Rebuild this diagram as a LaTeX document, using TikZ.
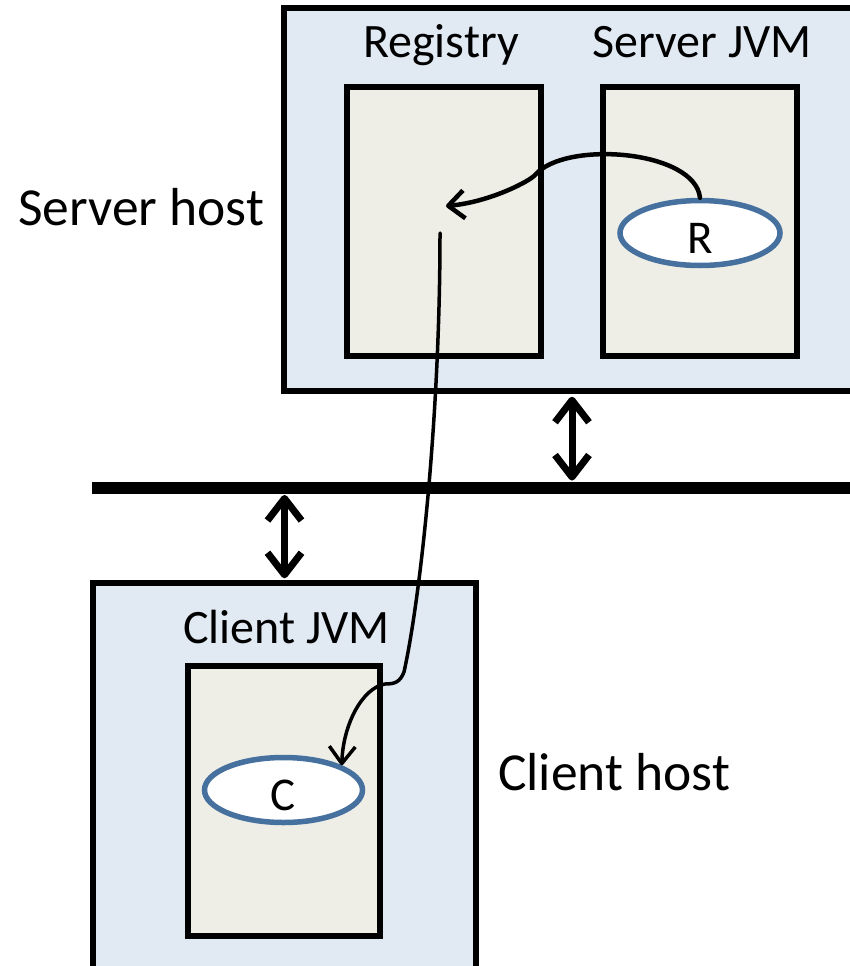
\documentclass[tikz,border=0pt]{standalone}
\usepackage{fontspec}
\setmainfont{Carlito}
\usetikzlibrary{arrows.meta,shapes.geometric}
\definecolor{hostblue}{HTML}{E1E9F3}
\definecolor{jvmfill}{HTML}{EEEEE7}
\definecolor{objblue}{HTML}{46719F}
\begin{document}
\begin{tikzpicture}[x=1pt,y=-1pt,
  box/.style={draw=black, line width=5.5pt, inner sep=0pt, rectangle},
  hostbox/.style={box, fill=hostblue},
  jvmbox/.style={box, fill=jvmfill, minimum width=194pt, minimum height=269pt},
  obj/.style={ellipse, draw=objblue, line width=5.5pt, fill=white, inner sep=0pt,
    minimum width=160pt, minimum height=65pt, font=\fontsize{47}{55}\selectfont,
    text height=40pt, text depth=0pt},
  biglabel/.style={font=\fontsize{53.5}{60}\selectfont, anchor=base west, inner sep=0pt},
  boxlabel/.style={font=\fontsize{48}{55}\selectfont, anchor=base west, inner sep=0pt},
  link/.style={line width=4.5pt, line cap=round, -{Straight Barb[length=16pt,width=28pt,line join=round]}},
  link2/.style={line width=3.5pt, line cap=round, -{Straight Barb[length=17pt,width=26pt,line join=round]}},
  dbl/.style={line width=7pt, {Straight Barb[length=22pt,width=34pt,line join=round]}-{Straight Barb[length=22pt,width=34pt,line join=round]}},
  netbar/.style={line width=12pt}
]
\clip (0,0) rectangle (850,966);
\fill[white] (0,0) rectangle (850,966);

% server host
\node[hostbox, minimum width=576pt, minimum height=383pt] (srv) at (572,199.5) {};
\node[jvmbox] (reg) at (444,221.5) {};
\node[jvmbox] (sjvm) at (700,221.5) {};
\node[boxlabel] (reglbl) at (363,57) {Registry};
\node[boxlabel] (sjvmlbl) at (592,57) {Server JVM};
\node[obj] (R) at (700,233) {R};
\node[biglabel] (srvlbl) at (18,225) {Server host};

% client host
\node[hostbox, minimum width=383pt, minimum height=397pt] (cli) at (284.5,781.5) {};
\node[jvmbox, minimum width=192pt, minimum height=270pt] (cjvm) at (284,801) {};
\node[boxlabel] (cjvmlbl) at (183,643) {Client JVM};
\node[obj, minimum width=158pt] (C) at (283.5,790) {C};
\node[biglabel] (clilbl) at (498,790) {Client host};

% network
\coordinate (barL) at (92,487.5);
\coordinate (barR) at (870,487.5);
\coordinate (n1) at (572,487.5);
\coordinate (n2) at (284.5,487.5);
\draw[netbar] (barL) -- (barR);
\draw[dbl, shorten <=3pt, shorten >=7pt] (srv.south) -- (n1);
\draw[dbl, shorten <=7.5pt, shorten >=2pt] (n2) -- (cli.north);

% bind / lookup
\coordinate (regin) at (446,206);
\coordinate (regout) at (440,233);
\draw[link] (R.north) .. controls (695,150) and (565,140) .. (535,175)
  .. controls (530,181) and (490,202) .. (regin);
\draw[link2] (regout) .. controls (440,420) and (420,600) .. (404,672)
  .. controls (400,682) and (395,684) .. (385,684)
  .. controls (362,688) and (343,725) .. (C.23);
\end{tikzpicture}
\end{document}
